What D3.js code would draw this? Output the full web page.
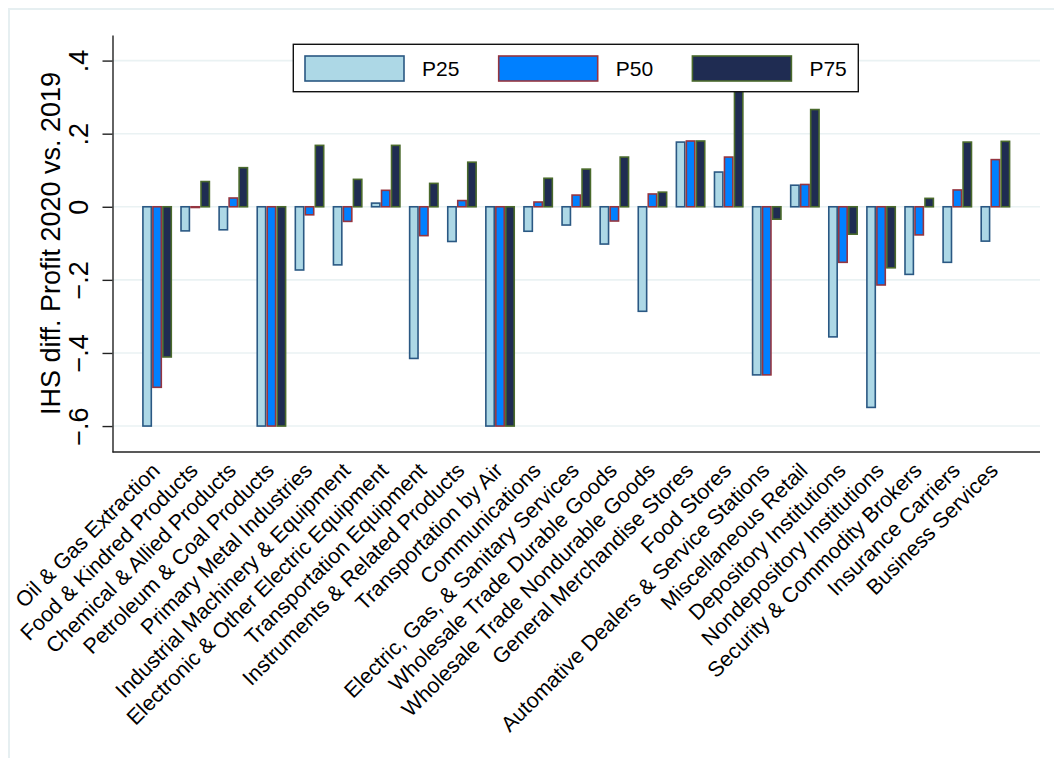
<!DOCTYPE html>
<html>
<head>
<meta charset="utf-8">
<script src="https://cdn.jsdelivr.net/npm/d3@7"></script>
<style>
  html, body { margin: 0; padding: 0; background: #ffffff; }
  svg { display: block; font-family: "Liberation Sans", Arial, Helvetica, sans-serif; }
</style>
</head>
<body>
<svg id="chart" width="1054" height="758"></svg>
<script>
// Industry groups (x categories)
const categories = [
  "Oil & Gas Extraction",
  "Food & Kindred Products",
  "Chemical & Allied Products",
  "Petroleum & Coal Products",
  "Primary Metal Industries",
  "Industrial Machinery & Equipment",
  "Electronic & Other Electric Equipment",
  "Transportation Equipment",
  "Instruments & Related Products",
  "Transportation by Air",
  "Communications",
  "Electric, Gas, & Sanitary Services",
  "Wholesale Trade Durable Goods",
  "Wholesale Trade Nondurable Goods",
  "General Merchandise Stores",
  "Food Stores",
  "Automative Dealers & Service Stations",
  "Miscellaneous Retail",
  "Depository Institutions",
  "Nondepository Institutions",
  "Security & Commodity Brokers",
  "Insurance Carriers",
  "Business Services"
];

// Series names
const seriesNames = ["P25", "P50", "P75"];

// IHS difference in profit, 2020 vs. 2019, by percentile
const p25 = [-0.600, -0.066, -0.063, -0.600, -0.173, -0.159, 0.010, -0.415, -0.095, -0.600,
             -0.067, -0.050, -0.102, -0.286, 0.177, 0.095, -0.460, 0.059, -0.356, -0.549,
             -0.185, -0.152, -0.094];
const p50 = [-0.494, -0.002, 0.024, -0.600, -0.022, -0.040, 0.045, -0.079, 0.017, -0.600,
             0.013, 0.032, -0.039, 0.035, 0.180, 0.136, -0.460, 0.061, -0.152, -0.214,
             -0.077, 0.046, 0.129];
const p75 = [-0.411, 0.069, 0.107, -0.600, 0.168, 0.075, 0.168, 0.064, 0.122, -0.600,
             0.078, 0.103, 0.136, 0.040, 0.180, 0.320, -0.034, 0.266, -0.075, -0.167,
             0.023, 0.177, 0.179];

// Y axis tick values
const yTicks = [-0.6, -0.4, -0.2, 0, 0.2, 0.4];

const seriesValues = [p25, p50, p75];
const fills   = ["#add8e6", "#0080ff", "#1f2c52"];
const strokes = ["#2a5883", "#953540", "#4a6a2c"];

const svg = d3.select("#chart");
const W = 1054, H = 758;
const plot = { left: 112.5, right: 1040, top: 35, bottom: 452 };

// Outer graph frame (only top and left edges fall inside the canvas)
svg.append("rect")
  .attr("x", 9).attr("y", 9)
  .attr("width", W + 20).attr("height", H + 20)
  .attr("fill", "none")
  .attr("stroke", "#e6eff1")
  .attr("stroke-width", 2);

const y = d3.scaleLinear()
  .domain([-0.671, 0.470])
  .range([plot.bottom, plot.top]);

const x0 = d3.scaleBand()
  .domain(categories)
  .range([plot.left, plot.right])
  .paddingInner(0.213)
  .paddingOuter(0.777);

const x1 = d3.scaleBand()
  .domain(seriesNames)
  .range([0, x0.bandwidth()])
  .padding(0);

// Horizontal grid lines
svg.append("g")
  .selectAll("line")
  .data(yTicks)
  .join("line")
  .attr("x1", plot.left).attr("x2", plot.right)
  .attr("y1", d => y(d)).attr("y2", d => y(d))
  .attr("stroke", "#eaf2f3")
  .attr("stroke-width", 1.6);

// Bars
const rows = categories.map((c, i) => ({
  cat: c,
  vals: seriesNames.map((s, k) => ({ s, k, v: seriesValues[k][i] }))
}));

const groups = svg.append("g")
  .selectAll("g")
  .data(rows)
  .join("g")
  .attr("transform", d => `translate(${x0(d.cat)},0)`);

groups.selectAll("rect")
  .data(d => d.vals)
  .join("rect")
  .attr("x", d => x1(d.s) + 0.8)
  .attr("width", x1.bandwidth() - 1.6)
  .attr("y", d => Math.min(y(0), y(d.v)))
  .attr("height", d => Math.abs(y(d.v) - y(0)))
  .attr("fill", d => fills[d.k])
  .attr("stroke", d => strokes[d.k])
  .attr("stroke-width", 1.6);

// Y axis
const fmt = v => {
  if (v === 0) return "0";
  return d3.format(".1f")(v).replace("0.", ".");
};

const yAxis = svg.append("g")
  .attr("transform", `translate(${plot.left},0)`)
  .call(d3.axisLeft(y).tickValues(yTicks).tickSize(10).tickSizeOuter(0).tickFormat(fmt));

yAxis.select(".domain").attr("stroke", "#222").attr("stroke-width", 1.4);
yAxis.selectAll(".tick line").attr("stroke", "#222").attr("stroke-width", 1.4);
yAxis.selectAll(".tick text")
  .attr("x", null).attr("dy", null)
  .attr("text-anchor", "middle")
  .attr("transform", "translate(-24.5,0) rotate(-90)")
  .attr("fill", "#000")
  .style("font-size", "27px")
  .style("font-family", "\"Liberation Sans\", Arial, Helvetica, sans-serif");

// X axis line (no ticks)
svg.append("line")
  .attr("x1", plot.left).attr("x2", plot.right)
  .attr("y1", plot.bottom).attr("y2", plot.bottom)
  .attr("stroke", "#222")
  .attr("stroke-width", 1.4);

// Category labels, angled
svg.append("g")
  .selectAll("text")
  .data(categories)
  .join("text")
  .attr("transform", d => `translate(${x0(d) + x0.bandwidth() / 2 + 4},${plot.bottom + 20}) rotate(-45)`)
  .attr("text-anchor", "end")
  .attr("fill", "#000")
  .style("font-size", "21.5px")
  .text(d => d);

// Y axis title
svg.append("text")
  .attr("transform", `translate(60,${(plot.top + plot.bottom) / 2}) rotate(-90)`)
  .attr("text-anchor", "middle")
  .attr("fill", "#000")
  .style("font-size", "27px")
  .text("IHS diff. Profit 2020 vs. 2019");

// Legend
const legend = svg.append("g");
legend.append("rect")
  .attr("x", 293.3).attr("y", 44.3)
  .attr("width", 565).attr("height", 47.4)
  .attr("fill", "#ffffff")
  .attr("stroke", "#111")
  .attr("stroke-width", 1.4);

const legendStep = 193.7;
const items = legend.selectAll("g.item")
  .data(seriesNames)
  .join("g")
  .attr("class", "item")
  .attr("transform", (d, i) => `translate(${305 + i * legendStep},0)`);

items.append("rect")
  .attr("x", 0).attr("y", 56)
  .attr("width", 99).attr("height", 25)
  .attr("fill", (d, i) => fills[i])
  .attr("stroke", (d, i) => strokes[i])
  .attr("stroke-width", 1.6);

items.append("text")
  .attr("x", 117)
  .attr("y", 75.5)
  .attr("fill", "#000")
  .style("font-size", "21px")
  .text(d => d);
</script>
</body>
</html>
